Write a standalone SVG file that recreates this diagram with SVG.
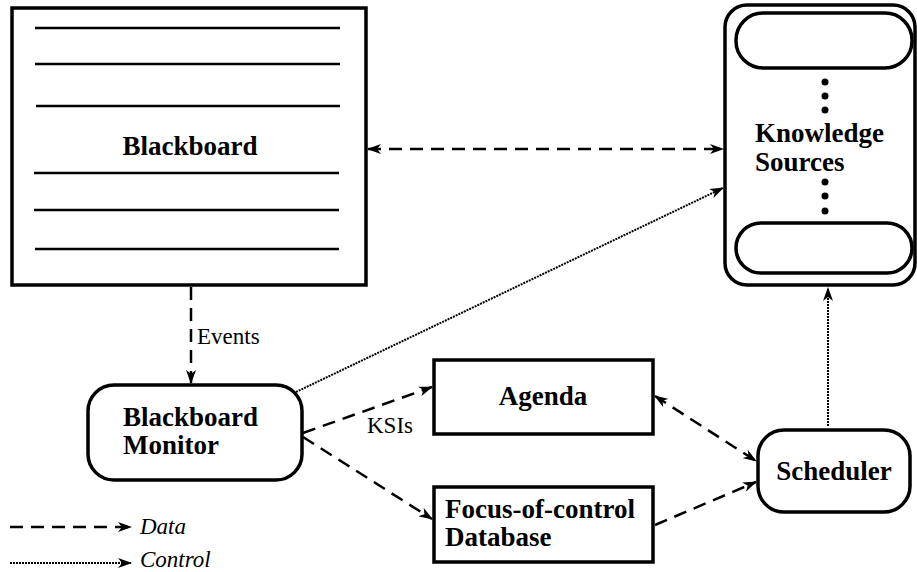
<svg xmlns="http://www.w3.org/2000/svg" width="917" height="572" viewBox="0 0 917 572">
<style>
.box{fill:#fff;stroke:#000;stroke-width:3.5}
.rule{stroke:#000;stroke-width:2.5}
.t{font-weight:bold;font-size:27px;fill:#000}
.s{font-size:23px;fill:#000}
.i{font-style:italic;font-size:23px;fill:#000}
.data{fill:none;stroke:#000;stroke-width:2.5;stroke-dasharray:13 8}
.ctrl{fill:none;stroke:#000;stroke-width:2;stroke-dasharray:2 1}
</style>
<defs>
<marker id="ah" viewBox="0 0 14 10" refX="13" refY="5" markerWidth="14" markerHeight="10" markerUnits="userSpaceOnUse" orient="auto-start-reverse">
<path d="M0,0 L14,5 L0,10 L4,5 z" fill="#000"/>
</marker>
</defs>
<rect width="917" height="572" fill="#fff"/>
<g id="blackboard">
<rect class="box" x="12" y="8" width="354" height="277"/>
<line class="rule" x1="35" y1="28" x2="340" y2="28"/>
<line class="rule" x1="35" y1="64" x2="340" y2="64"/>
<line class="rule" x1="36" y1="106" x2="340" y2="106"/>
<line class="rule" x1="34" y1="173" x2="339" y2="173"/>
<line class="rule" x1="34" y1="210" x2="339" y2="210"/>
<line class="rule" x1="35" y1="249" x2="339" y2="249"/>
<text class="t" x="190" y="155" text-anchor="middle" font-family="Liberation Serif" style="font-family:'Liberation Serif',serif">Blackboard</text>
</g>
<g id="knowledge-sources">
<rect class="box" x="725" y="5" width="190" height="280" rx="22"/>
<rect class="box" x="736" y="13" width="176" height="55" rx="27"/>
<rect class="box" x="736" y="223" width="176" height="50" rx="25"/>
<circle cx="825" cy="82" r="3.5"/>
<circle cx="825" cy="96" r="3.5"/>
<circle cx="825" cy="110" r="3.5"/>
<circle cx="825" cy="182" r="3.5"/>
<circle cx="825" cy="196" r="3.5"/>
<circle cx="825" cy="211" r="3.5"/>
<text class="t" x="755" y="142" font-family="Liberation Serif" style="font-family:'Liberation Serif',serif">Knowledge</text>
<text class="t" x="755" y="171" font-family="Liberation Serif" style="font-family:'Liberation Serif',serif">Sources</text>
</g>
<g id="blackboard-monitor">
<rect class="box" x="88" y="385" width="214" height="95" rx="26"/>
<text class="t" x="123" y="426" font-family="Liberation Serif" style="font-family:'Liberation Serif',serif">Blackboard</text>
<text class="t" x="123" y="454" font-family="Liberation Serif" style="font-family:'Liberation Serif',serif">Monitor</text>
</g>
<g id="agenda">
<rect class="box" x="434" y="360" width="219" height="74"/>
<text class="t" x="543" y="405" text-anchor="middle" font-family="Liberation Serif" style="font-family:'Liberation Serif',serif">Agenda</text>
</g>
<g id="focus-of-control">
<rect class="box" x="434" y="487" width="219" height="75"/>
<text class="t" x="445" y="518" font-family="Liberation Serif" style="font-family:'Liberation Serif',serif">Focus-of-control</text>
<text class="t" x="445" y="546" font-family="Liberation Serif" style="font-family:'Liberation Serif',serif">Database</text>
</g>
<g id="scheduler">
<rect class="box" x="758" y="430" width="152" height="82" rx="26"/>
<text class="t" x="834" y="480" text-anchor="middle" font-family="Liberation Serif" style="font-family:'Liberation Serif',serif">Scheduler</text>
</g>
<g id="connectors">
<line class="data" x1="368" y1="149" x2="723" y2="149" marker-start="url(#ah)" marker-end="url(#ah)"/>
<line class="ctrl" x1="296" y1="392" x2="723" y2="188" marker-end="url(#ah)"/>
<line class="data" x1="191" y1="287" x2="191" y2="383" marker-end="url(#ah)"/>
<text class="s" x="197" y="344" font-family="Liberation Serif" style="font-family:'Liberation Serif',serif">Events</text>
<line class="data" x1="303" y1="433" x2="432" y2="387" marker-end="url(#ah)"/>
<text class="s" x="367" y="433" font-family="Liberation Serif" style="font-family:'Liberation Serif',serif">KSIs</text>
<line class="data" x1="303" y1="437" x2="432" y2="519" marker-end="url(#ah)"/>
<line class="data" x1="655" y1="396" x2="756" y2="461" marker-start="url(#ah)" marker-end="url(#ah)"/>
<line class="data" x1="655" y1="525" x2="756" y2="482" marker-end="url(#ah)"/>
<line class="ctrl" x1="828" y1="426" x2="828" y2="288" marker-end="url(#ah)"/>
</g>
<g id="legend">
<line class="data" x1="10" y1="527" x2="131" y2="527" marker-end="url(#ah)"/>
<text class="i" x="140" y="534" font-family="Liberation Serif" style="font-family:'Liberation Serif',serif">Data</text>
<line class="ctrl" x1="10" y1="563" x2="131" y2="563" marker-end="url(#ah)"/>
<text class="i" x="140" y="567" font-family="Liberation Serif" style="font-family:'Liberation Serif',serif">Control</text>
</g>
</svg>
